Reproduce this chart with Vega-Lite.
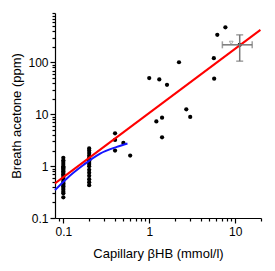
{
  "$schema": "https://vega.github.io/schema/vega-lite/v6.json",
  "width": 206,
  "height": 205,
  "autosize": "none",
  "padding": {"left": 55, "top": 13, "right": 14, "bottom": 53},
  "background": "white",
  "config": {
    "view": {"stroke": null},
    "font": "Liberation Sans",
    "axis": {
      "domainColor": "black", "tickColor": "black", "labelColor": "black", "titleColor": "black",
      "grid": false, "labelFontSize": 12, "titleFontSize": 13, "titleFontWeight": "normal",
      "domainWidth": 1.2, "tickWidth": 1.2, "labelFont": "Liberation Sans", "titleFont": "Liberation Sans"
    }
  },
  "datasets": {
    "pts": [
      {"x": 0.1, "y": 1.45}, {"x": 0.1, "y": 1.3}, {"x": 0.1, "y": 1.2}, {"x": 0.1, "y": 1.1}, {"x": 0.1, "y": 1.0},
      {"x": 0.1, "y": 0.95}, {"x": 0.1, "y": 0.9}, {"x": 0.1, "y": 0.85}, {"x": 0.1, "y": 0.8}, {"x": 0.1, "y": 0.75},
      {"x": 0.1, "y": 0.7}, {"x": 0.1, "y": 0.65}, {"x": 0.1, "y": 0.6}, {"x": 0.1, "y": 0.55}, {"x": 0.1, "y": 0.5},
      {"x": 0.1, "y": 0.47}, {"x": 0.1, "y": 0.44}, {"x": 0.1, "y": 0.41}, {"x": 0.1, "y": 0.38}, {"x": 0.1, "y": 0.35},
      {"x": 0.1, "y": 0.32}, {"x": 0.1, "y": 0.3}, {"x": 0.1, "y": 0.25},
      {"x": 0.2, "y": 2.2}, {"x": 0.2, "y": 2.0}, {"x": 0.2, "y": 1.8}, {"x": 0.2, "y": 1.6}, {"x": 0.2, "y": 1.45},
      {"x": 0.2, "y": 1.3}, {"x": 0.2, "y": 1.2}, {"x": 0.2, "y": 1.1}, {"x": 0.2, "y": 1.0}, {"x": 0.2, "y": 0.85},
      {"x": 0.2, "y": 0.75}, {"x": 0.2, "y": 0.65}, {"x": 0.2, "y": 0.56}, {"x": 0.2, "y": 0.49}, {"x": 0.2, "y": 0.43},
      {"x": 0.4, "y": 4.3}, {"x": 0.4, "y": 3.2}, {"x": 0.4, "y": 2.0}, {"x": 0.5, "y": 2.8}, {"x": 0.6, "y": 1.6},
      {"x": 1.0, "y": 50}, {"x": 1.31, "y": 47}, {"x": 1.61, "y": 37}, {"x": 2.22, "y": 101},
      {"x": 1.21, "y": 7.3}, {"x": 1.41, "y": 8.6}, {"x": 1.41, "y": 3.6}, {"x": 2.7, "y": 12.5}, {"x": 3.0, "y": 8.9},
      {"x": 5.65, "y": 121}, {"x": 5.7, "y": 48.6}, {"x": 6.2, "y": 341}, {"x": 7.7, "y": 477}, {"x": 11.3, "y": 219}
    ],
    "red": [{"x": 0.08, "y": 0.465}, {"x": 19.7, "y": 425}],
    "blue": [
      {"x": 0.08, "y": 0.345}, {"x": 0.11, "y": 0.58}, {"x": 0.171, "y": 1.05},
      {"x": 0.268, "y": 1.75}, {"x": 0.42, "y": 2.35}, {"x": 0.558, "y": 2.73}
    ],
    "errx": [{"x": 7.1, "x2": 15.8, "y": 219}],
    "erry": [{"x": 11.3, "y": 341, "y2": 106}],
    "hcaps": [{"x": 7.1, "y": 219}, {"x": 15.8, "y": 219}],
    "vcaps": [{"x": 11.3, "y": 341}, {"x": 11.3, "y": 106}],
    "tri": [{"x": 9.0, "y": 239}]
  },
  "layer": [
    {
      "data": {"name": "pts"},
      "mark": {"type": "point", "filled": true, "color": "black", "size": 18, "opacity": 1},
      "encoding": {
        "x": {"field": "x", "type": "quantitative",
          "scale": {"type": "log", "domain": [0.08, 20], "nice": false},
          "axis": {"orient": "bottom", "values": [0.1, 1, 10], "title": "Capillary βHB (mmol/l)", "tickSize": 5, "labelPadding": 3, "titlePadding": 10, "format": "~g"}},
        "y": {"field": "y", "type": "quantitative",
          "scale": {"type": "log", "domain": [0.1, 900], "nice": false},
          "axis": {"orient": "left", "values": [0.1, 1, 10, 100], "title": "Breath acetone (ppm)", "tickSize": 5, "labelPadding": 2, "titlePadding": 4, "format": "~g"}}
      }
    },
    {
      "data": {"name": "red"},
      "mark": {"type": "line", "color": "#ff0000", "strokeWidth": 2},
      "encoding": {
        "x": {"field": "x", "type": "quantitative",
          "axis": {"orient": "bottom", "values": [0.09, 0.2, 0.3, 0.4, 0.5, 0.6, 0.7, 0.8, 0.9, 2, 3, 4, 5, 6, 7, 8, 9, 20], "labels": false, "domain": false, "title": null, "tickSize": 3}},
        "y": {"field": "y", "type": "quantitative",
          "axis": {"orient": "left", "values": [0.2, 0.3, 0.4, 0.5, 0.6, 0.7, 0.8, 0.9, 2, 3, 4, 5, 6, 7, 8, 9, 20, 30, 40, 50, 60, 70, 80, 90, 200, 300, 400, 500, 600, 700, 800, 900], "labels": false, "domain": false, "title": null, "tickSize": 3}}
      }
    },
    {
      "data": {"name": "blue"},
      "mark": {"type": "line", "color": "#1515ff", "strokeWidth": 2, "interpolate": "monotone"},
      "encoding": {
        "x": {"field": "x", "type": "quantitative", "axis": null},
        "y": {"field": "y", "type": "quantitative", "axis": null}
      }
    },
    {
      "data": {"name": "errx"},
      "mark": {"type": "rule", "color": "#777777", "strokeWidth": 1.5},
      "encoding": {
        "x": {"field": "x", "type": "quantitative", "axis": null},
        "x2": {"field": "x2"},
        "y": {"field": "y", "type": "quantitative", "axis": null}
      }
    },
    {
      "data": {"name": "erry"},
      "mark": {"type": "rule", "color": "#777777", "strokeWidth": 1.5},
      "encoding": {
        "x": {"field": "x", "type": "quantitative", "axis": null},
        "y": {"field": "y", "type": "quantitative", "axis": null},
        "y2": {"field": "y2"}
      }
    },
    {
      "data": {"name": "hcaps"},
      "mark": {"type": "tick", "orient": "vertical", "color": "#777777", "size": 7, "thickness": 1.5},
      "encoding": {
        "x": {"field": "x", "type": "quantitative", "axis": null},
        "y": {"field": "y", "type": "quantitative", "axis": null}
      }
    },
    {
      "data": {"name": "vcaps"},
      "mark": {"type": "tick", "orient": "horizontal", "color": "#777777", "size": 7, "thickness": 1.5},
      "encoding": {
        "x": {"field": "x", "type": "quantitative", "axis": null},
        "y": {"field": "y", "type": "quantitative", "axis": null}
      }
    },
    {
      "data": {"name": "tri"},
      "mark": {"type": "point", "shape": "triangle-down", "filled": false, "color": "#888888", "size": 14, "strokeWidth": 1},
      "encoding": {
        "x": {"field": "x", "type": "quantitative", "axis": null},
        "y": {"field": "y", "type": "quantitative", "axis": null}
      }
    }
  ],
  "resolve": {"axis": {"x": "independent", "y": "independent"}}
}
